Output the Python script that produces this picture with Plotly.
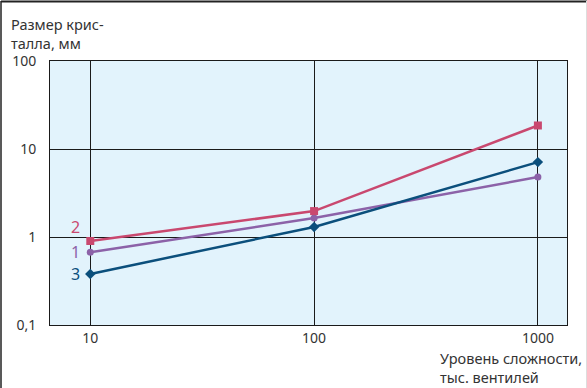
import math
import plotly.graph_objects as go

x_vals = [10, 100, 1000]
series1 = [0.67, 1.64, 4.8]
series2 = [0.9, 1.97, 18.5]
series3 = [0.38, 1.3, 7.1]
x_ticks = [10, 100, 1000]
x_tick_labels = ["10", "100", "1000"]
y_ticks = [0.1, 1, 10, 100]
y_tick_labels = ["0,1", "1", "10", "100"]
series_labels = ["1", "2", "3"]

c1 = "#8c62a8"
c2 = "#c9486f"
c3 = "#0b4f7c"
font = "Noto Sans"

W, H = 587, 388
ML, MR, MT, MB = 50, 20, 61, 63
PW, PH = W - ML - MR, H - MT - MB


def px_x(px):
    return (px - ML) / PW


def px_y(py):
    return (H - MB - py) / PH


fig = go.Figure()
fig.add_trace(go.Scatter(x=x_vals, y=series1, mode="lines+markers",
                         line=dict(color=c1, width=2.5),
                         marker=dict(symbol="circle", size=7, color=c1)))
fig.add_trace(go.Scatter(x=x_vals, y=series3, mode="lines+markers",
                         line=dict(color=c3, width=2.5),
                         marker=dict(symbol="diamond", size=8, color=c3)))
fig.add_trace(go.Scatter(x=x_vals, y=series2, mode="lines+markers",
                         line=dict(color=c2, width=2.5),
                         marker=dict(symbol="square", size=8, color=c2)))

for lab, yv, col in [(series_labels[1], series2[0] * 1.45, c2),
                     (series_labels[0], series1[0], c1),
                     (series_labels[2], series3[0], c3)]:
    fig.add_annotation(x=1, y=math.log10(yv), xref="x", yref="y",
                       text=lab, showarrow=False, xanchor="right", xshift=-8,
                       font=dict(color=col, size=16, family=font))

fig.update_xaxes(type="log", range=[0.82, 3.13], tickvals=x_ticks, ticktext=x_tick_labels,
                 showgrid=True, gridcolor="#1a1a1a", gridwidth=1, zeroline=False,
                 showline=True, linecolor="#1a1a1a", linewidth=1, mirror=True,
                 ticks="", tickfont=dict(size=14, color="#333", family=font))
fig.update_yaxes(type="log", range=[-1, 2], tickvals=y_ticks, ticktext=y_tick_labels,
                 showgrid=True, gridcolor="#1a1a1a", gridwidth=1, zeroline=False,
                 showline=True, linecolor="#1a1a1a", linewidth=1, mirror=True,
                 ticks="", ticklabelstandoff=10,
                 tickfont=dict(size=14, color="#333", family=font))

fig.add_annotation(x=px_x(9), y=px_y(12), xref="paper", yref="paper", xanchor="left", yanchor="top",
                   align="left", showarrow=False,
                   text="Размер крис-<br>талла, мм",
                   font=dict(size=14.5, color="#333", family=font))
fig.add_annotation(x=px_x(438), y=px_y(346), xref="paper", yref="paper", xanchor="left", yanchor="top",
                   align="left", showarrow=False,
                   text="Уровень сложности,<br>тыс. вентилей",
                   font=dict(size=14.5, color="#333", family=font))

# outer frame (top and left edges, faint right edge)
fig.add_shape(type="line", xref="paper", yref="paper", x0=px_x(1), x1=px_x(587), y0=px_y(1.5), y1=px_y(1.5),
              line=dict(color="#222", width=2))
fig.add_shape(type="line", xref="paper", yref="paper", x0=px_x(1), x1=px_x(1), y0=px_y(1), y1=px_y(388),
              line=dict(color="#222", width=1.5))
fig.add_shape(type="line", xref="paper", yref="paper", x0=px_x(586.5), x1=px_x(586.5), y0=px_y(1), y1=px_y(388),
              line=dict(color="#dddddd", width=1))

fig.update_layout(width=W, height=H, showlegend=False,
                  plot_bgcolor="#e2f3fc", paper_bgcolor="white",
                  margin=dict(l=ML, r=MR, t=MT, b=MB))
fig.write_html("out.html", config={"displayModeBar": False},
               post_script="document.body.style.margin='0';")
